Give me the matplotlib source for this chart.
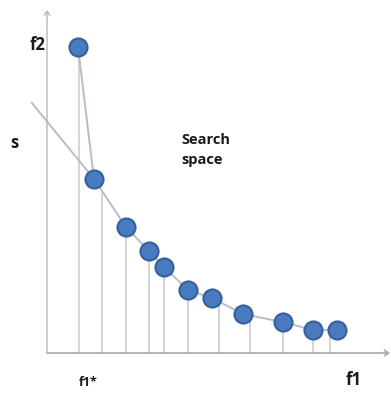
import matplotlib
matplotlib.use("Agg")
from matplotlib import pyplot as plt

# pareto points (f1, f2)
f1_pts = [1.07, 1.62, 2.72, 3.52, 4.03, 4.86, 5.69, 6.76, 8.14, 9.17, 10.0]
f2_pts = [10.2, 5.8, 4.2, 3.4, 2.87, 2.1, 1.83, 1.3, 1.03, 0.77, 0.77]

# vertical stems (x position, top)
stem_x = [1.10, 1.90, 2.72, 3.52, 4.03, 4.86, 5.93, 7.0, 8.14, 9.17, 9.76]
stem_top = [10.2, 5.33, 4.2, 3.4, 2.87, 2.1, 1.7, 1.27, 1.03, 0.77, 0.77]

# the "s" line
s_x = [-0.52, 1.62]
s_y = [8.33, 5.8]

line_col = "#b3bfcc"
dot_col = "#4a7bc0"
edge_col = "#34619b"

fig = plt.figure(figsize=(3.91, 3.94), dpi=100)
fig.patch.set_facecolor("white")
ax = fig.add_axes([47 / 391, 41 / 394, 343 / 391, 343 / 394])
ax.set_xlim(0, 11.83)
ax.set_ylim(0, 11.43)
ax.axis("off")

# axes with arrows
ax.annotate("", xy=(11.83, 0), xytext=(0, 0), xycoords="data",
            arrowprops=dict(arrowstyle="->,head_length=0.3,head_width=0.2", color="#a8a8a8",
                            lw=1.2, shrinkA=0, shrinkB=0),
            annotation_clip=False)
ax.annotate("", xy=(0, 11.43), xytext=(0, 0), xycoords="data",
            arrowprops=dict(arrowstyle="->,head_length=0.3,head_width=0.2", color="#b8b8b8",
                            lw=1.0, shrinkA=0, shrinkB=0),
            annotation_clip=False)

ax.vlines(stem_x, 0, stem_top, color="#cdd1d5", lw=1.3, zorder=1)
ax.plot(s_x, s_y, color=line_col, lw=1.4, zorder=2, clip_on=False)
ax.plot(f1_pts, f2_pts, color=line_col, lw=1.4, zorder=2)
ax.plot(f1_pts, f2_pts, "o", ms=13, mfc=dot_col, mec=edge_col, mew=1.5, zorder=3)

fnt = dict(family=["Open Sans", "DejaVu Sans"], fontweight="bold", color="#1a1a1a")
ax.text(-0.31, 10.27, "f2", ha="center", va="center", fontsize=12, clip_on=False, **fnt)
ax.text(-1.14, 7.0, "s", ha="center", va="center", fontsize=12, clip_on=False, **fnt)
ax.text(4.62, 6.77, "Search\nspace", ha="left", va="center", fontsize=10.5,
        linespacing=1.5, **fnt)
ax.text(1.41, -0.97, "f1*", ha="center", va="center", fontsize=9, clip_on=False, **fnt)
ax.text(10.59, -0.9, "f1", ha="center", va="center", fontsize=12, clip_on=False, **fnt)

fig.savefig("out.png", dpi=100, facecolor="white")
